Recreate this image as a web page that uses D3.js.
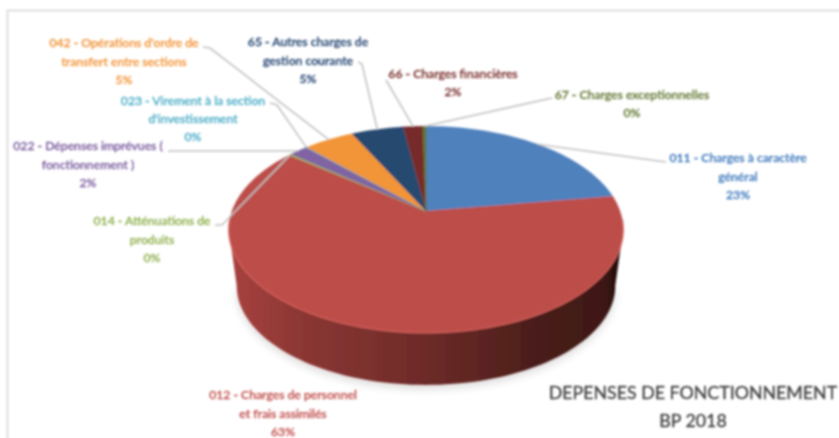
<!DOCTYPE html>
<html>
<head>
<meta charset="utf-8">
<script src="https://cdnjs.cloudflare.com/ajax/libs/d3/7.8.5/d3.min.js"></script>
<style>
html,body{margin:0;padding:0;background:#fff;overflow:hidden}
svg{display:block}
text{font-family:Lato,"Open Sans",sans-serif}
</style>
</head>
<body>
<svg id="chart" width="839" height="438"></svg>
<script>
// ---- data ----
const categories = [
  "011 - Charges à caractère général",
  "012 - Charges de personnel et frais assimilés",
  "014 - Atténuations de produits",
  "022 - Dépenses imprévues ( fonctionnement )",
  "023 - Virement à la section d'investissement",
  "042 - Opérations d'ordre de transfert entre sections",
  "65 - Autres charges de gestion courante",
  "66 - Charges financières",
  "67 - Charges exceptionnelles"
];
const values = [22.6, 63.1, 0.2, 1.8, 0.1, 4.9, 5.1, 1.9, 0.3];
const percentLabels = ["23%", "63%", "0%", "2%", "0%", "5%", "5%", "2%", "0%"];
const labelLines = [
  ["011 - Charges à caractère", "général"],
  ["012 - Charges de personnel", "et frais assimilés"],
  ["014 - Atténuations de", "produits"],
  ["022 - Dépenses imprévues (", "fonctionnement )"],
  ["023 - Virement à la section", "d'investissement"],
  ["042 - Opérations d'ordre de", "transfert entre sections"],
  ["65 - Autres charges de", "gestion courante"],
  ["66 - Charges financières"],
  ["67 - Charges exceptionnelles"]
];
const titleLines = ["DEPENSES DE FONCTIONNEMENT", "BP 2018"];

// ---- styles and layout ----
const sliceColors = ["#4f81bd", "#bc4d4a", "#9bbb59", "#8064a2", "#4bacc6", "#f29439", "#26486f", "#772c2a", "#5f7530"];
const textColors  = ["#3f78bd", "#c0504d", "#8fb04e", "#7a5c9e", "#4bacc6", "#f29439", "#1f3f6b", "#772c2a", "#5f7530"];
const labelPos = [
  {x: 738, y: 158, dy: 18.5}, {x: 283, y: 395, dy: 18.5}, {x: 152, y: 221, dy: 18.5},
  {x: 88, y: 146, dy: 18.5},  {x: 193, y: 101, dy: 18},   {x: 124, y: 43, dy: 18.5},
  {x: 308, y: 42, dy: 18.5},  {x: 453, y: 74, dy: 18},    {x: 632, y: 95, dy: 18}
];
const leaderStart = [
  [[666,162]], null, [[215,225],[222,225]],
  [[168,151],[280,151]], [[270,103],[277,105]], [[203,47],[210,48]],
  [[358,62],[362,64]], [[386,80]], [[552,98]]
];

// ---- perspective projection of the pie disc ----
const cx = 426, cy = 211, A = 194, B = 100, K = 0.179;
const project = (angle, r = 1, dy = 0, s = 1) => {
  const u = r * Math.sin(angle), v = r * Math.cos(angle), w = 1 + K * v;
  return [cx + s * A * u / w, cy + dy - s * B * v / w];
};
const svg = d3.select("#chart");
const defs = svg.append("defs");
const soft = defs.append("filter").attr("id", "soft").attr("x", "-5%").attr("y", "-5%").attr("width", "110%").attr("height", "110%");
soft.append("feGaussianBlur").attr("stdDeviation", 0.8);
const shadow = defs.append("filter").attr("id", "shadow").attr("x", "-10%").attr("y", "-10%").attr("width", "120%").attr("height", "120%");
shadow.append("feGaussianBlur").attr("stdDeviation", 5);
const grad = defs.append("linearGradient").attr("id", "wall").attr("gradientUnits", "userSpaceOnUse")
  .attr("x1", 228).attr("x2", 623).attr("y1", 0).attr("y2", 0);
[[0, "#a8423f"], [0.18, "#8c3734"], [0.5, "#6d2b28"], [0.8, "#481d1a"], [0.95, "#3e1815"], [1, "#1c0a09"]]
  .forEach(([o, c]) => grad.append("stop").attr("offset", o).attr("stop-color", c));

const root = svg.append("g").attr("filter", "url(#soft)");

// frame
root.append("path").attr("d", d3.line()([[7.5, 440], [7.5, 10.5], [842, 10.5]]))
  .attr("fill", "none").attr("stroke", "#dedede").attr("stroke-width", 2);

const pie = d3.pie().sort(null).value(d => d);
const arcs = pie(values);
const line = d3.line();
const TAU = Math.PI * 2;
const steps = (a0, a1, n = 90) => d3.range(n + 1).map(i => a0 + (a1 - a0) * i / n);

// 3D wall
const DEPTH = 57, SHRINK = 0.96;
const wallA0 = Math.acos(-K), wallA1 = TAU - wallA0;
const topRim = steps(wallA0, wallA1).map(a => project(a));
const botRim = steps(wallA1, wallA0).map(a => project(a, 1, DEPTH, SHRINK));
root.append("path").attr("d", line(steps(wallA0, wallA1).map(a => project(a, 1, DEPTH + 4, SHRINK))) + "Z")
  .attr("fill", "#000").attr("opacity", 0.14).attr("filter", "url(#shadow)");
root.append("path").attr("d", line(topRim.concat(botRim)) + "Z").attr("fill", "url(#wall)");

// top slices
arcs.forEach((d, i) => {
  const pts = [[cx, cy]].concat(steps(d.startAngle, d.endAngle, Math.max(2, Math.ceil((d.endAngle - d.startAngle) * 40))).map(a => project(a)));
  root.append("path").attr("d", line(pts) + "Z").attr("fill", sliceColors[i])
    .attr("stroke", sliceColors[i]).attr("stroke-width", values[i] < 0.5 ? 0.7 : 0.3);
});

// rim highlight
root.append("path").attr("d", line(steps(wallA0 - 0.1, wallA1 + 0.1).map(a => project(a))))
  .attr("fill", "none").attr("stroke", "#d8605b").attr("stroke-width", 1.5).attr("opacity", 0.75);

// leaders
arcs.forEach((d, i) => {
  if (!leaderStart[i]) return;
  const mid = (d.startAngle + d.endAngle) / 2;
  root.append("path").attr("d", line(leaderStart[i].concat([project(mid)])))
    .attr("fill", "none").attr("stroke", "#c2c2c2").attr("stroke-width", 1.6);
});

// labels
categories.forEach((name, i) => {
  const p = labelPos[i];
  const lines = labelLines[i].concat([percentLabels[i]]);
  const t = root.append("text").attr("text-anchor", "middle").attr("fill", textColors[i])
    .attr("stroke", textColors[i]).attr("stroke-width", 0.3)
    .attr("font-size", 12.2).attr("font-weight", 500);
  t.append("title").text(name);
  lines.forEach((s, j) => {
    t.append("tspan").attr("x", p.x).attr("y", p.y + j * p.dy).attr("dy", "0.35em").text(s);
  });
});

// title
titleLines.forEach((s, j) => {
  root.append("text").attr("x", 693).attr("y", 393 + j * 28).attr("dy", "0.35em")
    .attr("text-anchor", "middle").attr("fill", "#404040")
    .attr("stroke", "#404040").attr("stroke-width", 0.3).attr("font-size", 17.8).text(s);
});
</script>
</body>
</html>
